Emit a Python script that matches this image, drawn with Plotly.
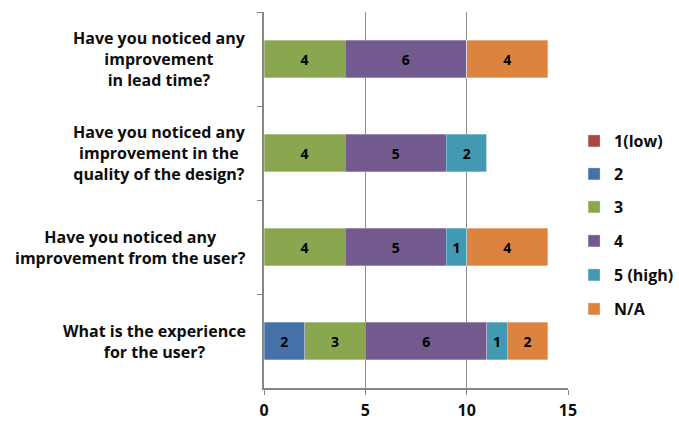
import plotly.graph_objects as go

# Survey questions (top to bottom)
questions = [
    "Have you noticed any<br>improvement<br>in lead time?",
    "Have you noticed any<br>improvement in the<br>quality of the design?",
    "Have you noticed any<br>improvement from the user?",
    "What is the experience<br>for the user?",
]
question_keys = ["lead", "quality", "from_user", "experience"]

# Rating categories and their response counts per question
ratings = ["1(low)", "2", "3", "4", "5 (high)", "N/A"]
counts_low = [0, 0, 0, 0]
counts_2 = [0, 0, 0, 2]
counts_3 = [4, 4, 4, 3]
counts_4 = [6, 5, 5, 6]
counts_high = [0, 2, 1, 1]
counts_na = [4, 0, 4, 2]
series = [counts_low, counts_2, counts_3, counts_4, counts_high, counts_na]

colors = ["#A94845", "#4571A8", "#8AA64F", "#725A8F", "#4299B2", "#DC843F"]

x_ticks = [0, 5, 10, 15]

FONT = "Open Sans"
INK = "#0d0d0d"
fig = go.Figure()

for i, (name, vals, col) in enumerate(zip(ratings, series, colors)):
    fig.add_trace(go.Bar(
        y=question_keys,
        x=vals,
        name=name,
        orientation="h",
        width=0.4,
        marker=dict(color=col, line=dict(color="rgba(255,255,255,0.5)", width=0.6)),
        text=[str(v) if v else "" for v in vals],
        textposition="inside",
        insidetextanchor="middle",
        textangle=0,
        textfont=dict(family=FONT, size=14, color="black", weight="bold"),
        legend="legend" if i == 0 else f"legend{i + 1}",
        hoverinfo="x+name",
    ))

# Question labels drawn as centred multi-line text beside the axis
for key, label in zip(question_keys, questions):
    fig.add_annotation(
        x=0, xref="paper", y=key, yref="y",
        text=label, showarrow=False,
        xanchor="right", yanchor="middle", align="center",
        xshift=-16,
        font=dict(family=FONT, size=16, color=INK, weight="bold"),
    )

# One small legend per rating so the entries sit on an even, roomy pitch
plot_top, plot_bottom = 12, 388
legend_centres = [141, 174, 207, 241, 275, 309]
legends = {}
for i, yc in enumerate(legend_centres):
    key = "legend" if i == 0 else f"legend{i + 1}"
    legends[key] = dict(
        x=1.02, xanchor="left",
        y=(plot_bottom - yc) / (plot_bottom - plot_top), yanchor="middle",
        font=dict(family=FONT, size=16, color=INK, weight="bold"),
        bgcolor="rgba(0,0,0,0)", borderwidth=0,
        itemclick=False, itemdoubleclick=False,
    )

fig.update_layout(
    width=679, height=422,
    margin=dict(l=264, r=111, t=plot_top, b=422 - plot_bottom, autoexpand=False),
    barmode="stack",
    plot_bgcolor="white", paper_bgcolor="white",
    showlegend=True,
    xaxis=dict(
        range=[0, 15], tickvals=x_ticks, ticktext=[str(t) for t in x_ticks],
        showgrid=True, gridcolor="#8C8C8C", gridwidth=1,
        showline=True, linecolor="#868686", linewidth=2,
        ticks="outside", ticklen=5, tickcolor="#868686", tickwidth=1,
        ticklabelstandoff=2,
        tickfont=dict(family=FONT, size=16, color=INK, weight="bold"),
        zeroline=False, fixedrange=True, automargin=False,
    ),
    yaxis=dict(
        categoryorder="array", categoryarray=question_keys,
        autorange="reversed",
        showticklabels=False, showgrid=False,
        showline=True, linecolor="#868686", linewidth=2,
        ticks="outside", ticklen=5, tickcolor="#868686", tickwidth=1,
        tickson="boundaries", fixedrange=True, automargin=False,
    ),
    **legends,
)

fig.write_html("out.html")
